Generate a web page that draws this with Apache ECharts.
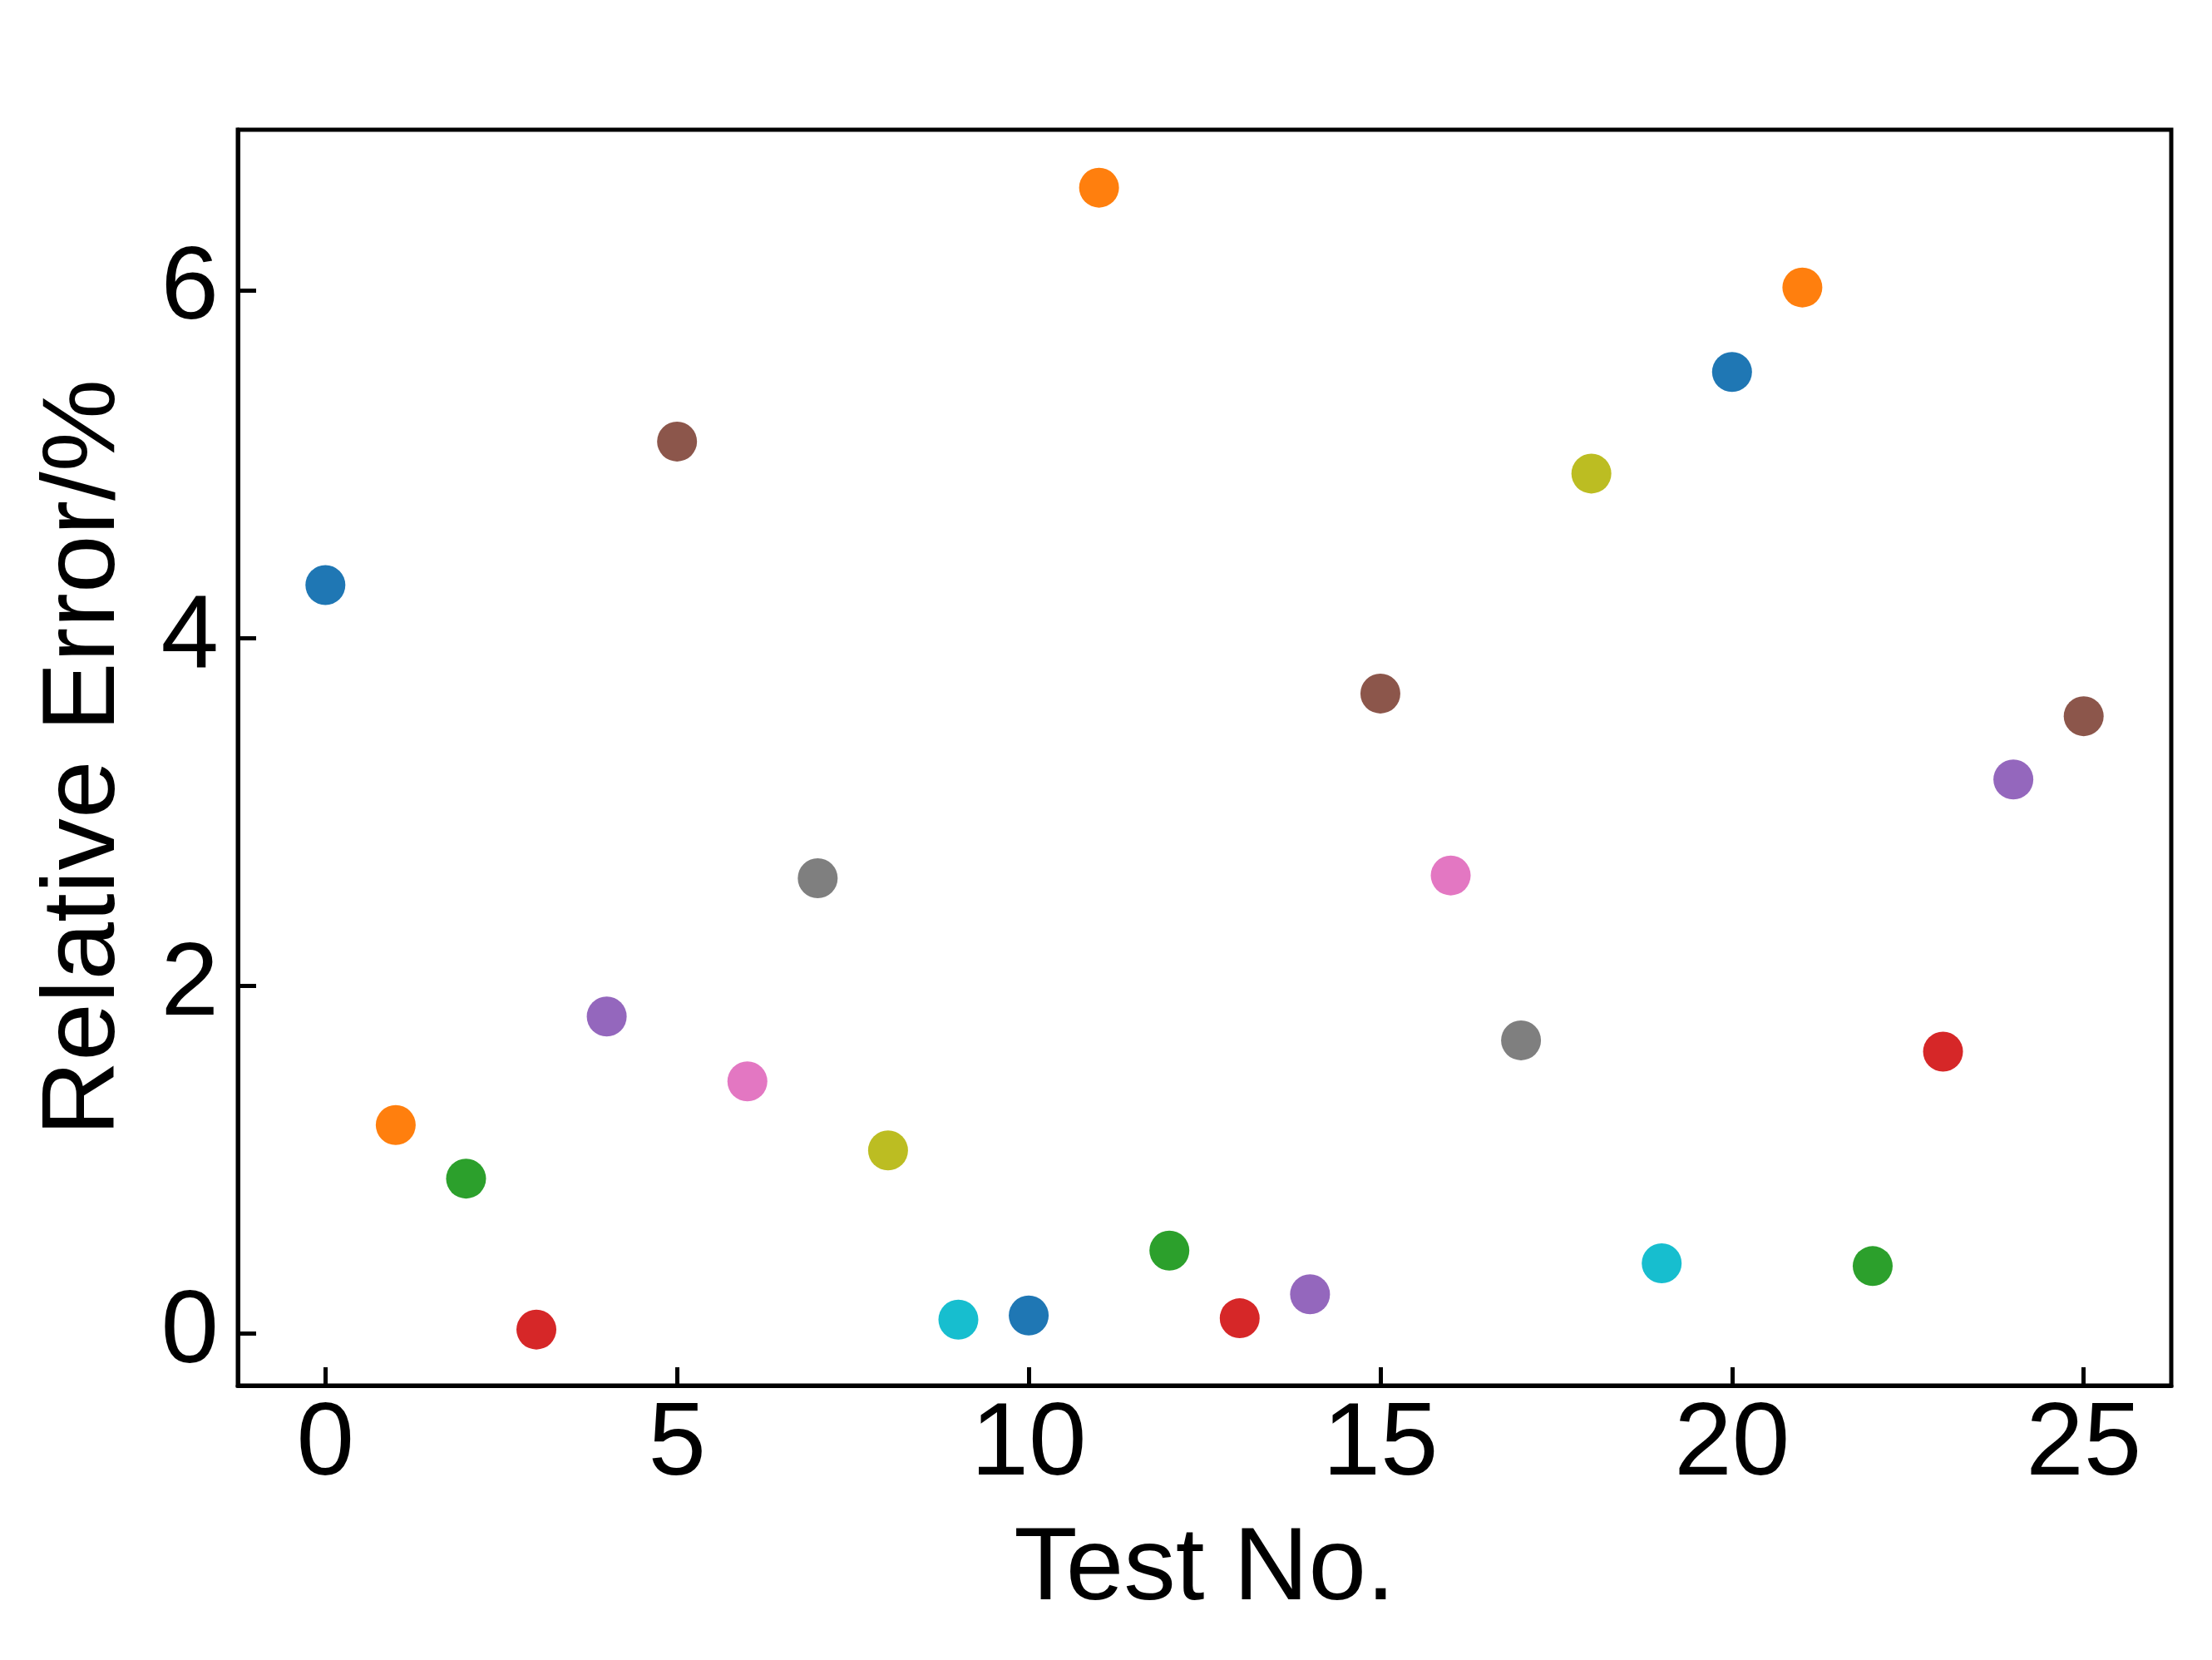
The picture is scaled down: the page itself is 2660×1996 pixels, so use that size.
<!DOCTYPE html>
<html>
<head>
<meta charset="utf-8">
<script src="https://cdn.jsdelivr.net/npm/echarts@6/dist/echarts.min.js"></script>
<style>
html,body{margin:0;padding:0;background:#fff;}
#chart{width:2660px;height:1996px;}
</style>
</head>
<body>
<div id="chart"></div>
<script>
// Data
const testNo = [0,1,2,3,4,5,6,7,8,9,10,11,12,13,14,15,16,17,18,19,20,21,22,23,24,25];
const relativeError = [4.305,1.200,0.892,0.024,1.824,5.130,1.451,2.619,1.054,0.081,0.105,6.590,0.478,0.089,0.227,3.681,2.635,1.687,4.946,0.405,5.530,6.016,0.389,1.622,3.187,3.551];
const xTicks = [0,5,10,15,20,25];
const yTicks = [0,2,4,6];
const palette = ['#1f77b4','#ff7f0e','#2ca02c','#d62728','#9467bd','#8c564b','#e377c2','#7f7f7f','#bcbd22','#17becf'];

const FONT = 'Liberation Sans, Arial, sans-serif';
const FS = 125;

const chart = echarts.init(document.getElementById('chart'), null, {renderer:'canvas'});

const series = testNo.map((x, i) => ({
  type: 'scatter',
  symbol: 'circle',
  symbolSize: 48,
  data: [[x, relativeError[i]]],
  itemStyle: {opacity: 1},
  silent: true,
  animation: false
}));

chart.setOption({
  animation: false,
  backgroundColor: '#ffffff',
  color: palette,
  grid: {
    left: 286, right: 49, top: 156, bottom: 330,
    show: true, borderColor: '#000', borderWidth: 5, backgroundColor: 'transparent'
  },
  xAxis: {
    type: 'value',
    min: -1.245, max: 26.245,
    name: 'Test No.',
    nameLocation: 'middle',
    nameGap: 160,
    nameTextStyle: {fontFamily: FONT, fontSize: FS, color: '#000'},
    axisLine: {show: true, onZero: false, lineStyle: {color: '#000', width: 5}},
    splitLine: {show: false},
    axisTick: {show: true, inside: true, length: 22, customValues: xTicks, lineStyle: {color: '#000', width: 5}},
    axisLabel: {show: true, margin: 10, customValues: xTicks, fontFamily: FONT, fontSize: FS, color: '#000'}
  },
  yAxis: {
    type: 'value',
    min: -0.298, max: 6.923,
    name: 'Relative Error/%',
    nameLocation: 'middle',
    nameRotate: 90,
    nameGap: 121,
    nameTextStyle: {fontFamily: FONT, fontSize: FS, color: '#000'},
    axisLine: {show: true, onZero: false, lineStyle: {color: '#000', width: 5}},
    splitLine: {show: false},
    axisTick: {show: true, inside: true, length: 22, customValues: yTicks, lineStyle: {color: '#000', width: 5}},
    axisLabel: {show: true, margin: 23, customValues: yTicks, fontFamily: FONT, fontSize: FS, color: '#000'}
  },
  series: series
});
</script>
</body>
</html>
